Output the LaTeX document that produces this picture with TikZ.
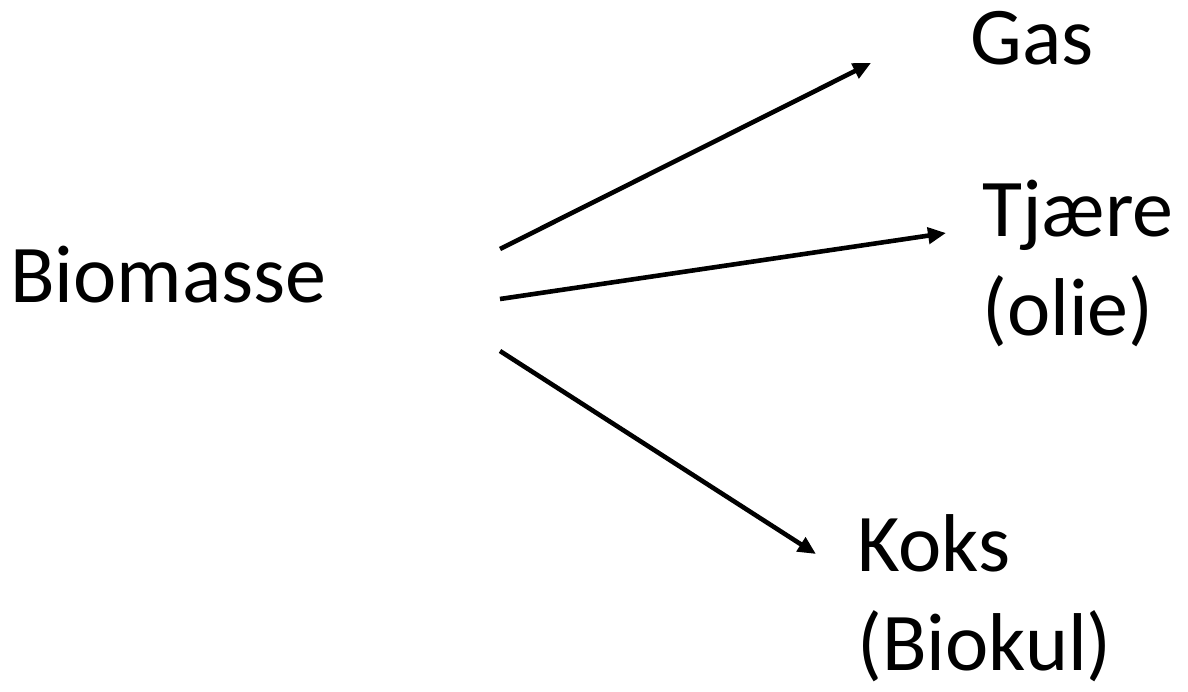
\documentclass[tikz,border=0pt]{standalone}
\usepackage{fontspec}
\setmainfont{Carlito}
\usetikzlibrary{arrows.meta}

\begin{document}
\begin{tikzpicture}[x=1pt,y=-1pt,semithick]
\tikzstyle{produkt}=[inner sep=0pt,align=left,font=\fontsize{82}{99}\selectfont]
\tikzstyle{pil}=[line width=4.6pt,-{Triangle[length=18pt,width=16pt]}]
\useasboundingbox (0,0) rectangle (1188,692);
%tekster
\node[produkt,anchor=base west] (bio) at (10,303) {Biomasse};
\node[produkt,anchor=base west] (gas) at (970,65) {Gas};
\node[produkt,anchor=north west] (tjaere) at (982,180) {Tjære\\(olie)};
\node[produkt,anchor=north west] (koks) at (857,514) {Koks\\(Biokul)};
%pilenes ender
\coordinate (s1) at (500,249);
\coordinate (s2) at (500,299);
\coordinate (s3) at (500,351);
\coordinate (e1) at (871,63);
\coordinate (e2) at (946,233);
\coordinate (e3) at (816,554);
%pile
\path	(s1)	edge[pil]	(e1)
		(s2)	edge[pil]	(e2)
		(s3)	edge[pil]	(e3);
\end{tikzpicture}
\end{document}
